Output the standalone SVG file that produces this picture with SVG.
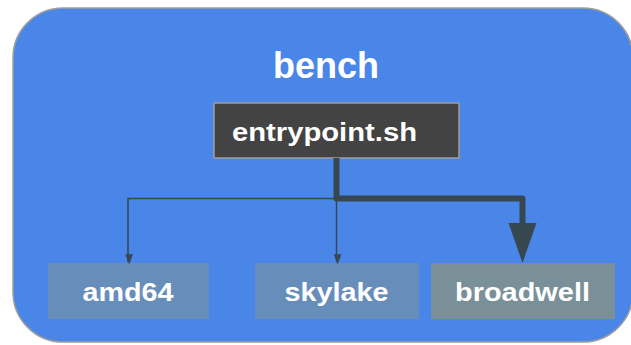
<svg xmlns="http://www.w3.org/2000/svg" width="631" height="345" viewBox="0 0 631 345">
<style>
text{font-family:"Liberation Sans",Arial,sans-serif;font-weight:bold;fill:#ffffff}
.leaf{stroke:none}
.thin{fill:none;stroke:#37474f;stroke-width:1.5}
.thick{fill:none;stroke:#37474f;stroke-width:6;stroke-linejoin:round}
</style>
<defs>
<marker id="sm" markerUnits="userSpaceOnUse" markerWidth="10" markerHeight="13" refX="10" refY="6.5" orient="auto" viewBox="0 0 13 10" >
<path d="M0,0 L13,5 L0,10 z" fill="#37474f"/>
</marker>
</defs>
<g id="bench">
<rect x="13" y="8" width="620" height="334" rx="50" ry="50" fill="#4a86e8" stroke="#9e9e9e" stroke-width="1.5"/>
<text x="326" y="78" font-size="37" text-anchor="middle" textLength="106" lengthAdjust="spacingAndGlyphs">bench</text>
</g>
<g id="entrypoint">
<rect x="214" y="103" width="245" height="55" fill="#434343" stroke="#9e9e9e" stroke-width="1.5"/>
<text x="232" y="140.5" font-size="25.5" textLength="185" lengthAdjust="spacingAndGlyphs">entrypoint.sh</text>
</g>
<g id="amd64">
<rect class="leaf" x="48" y="263" width="161" height="56" fill="#678ebb"/>
<text x="82.5" y="301" font-size="25.5" textLength="91" lengthAdjust="spacingAndGlyphs">amd64</text>
</g>
<g id="skylake">
<rect class="leaf" x="255" y="263" width="164" height="56" fill="#678ebb"/>
<text x="284.5" y="301" font-size="25.5" textLength="104" lengthAdjust="spacingAndGlyphs">skylake</text>
</g>
<g id="broadwell">
<rect class="leaf" x="431" y="263" width="184" height="56" fill="#7a9099"/>
<text x="455" y="301" font-size="25.5" textLength="135" lengthAdjust="spacingAndGlyphs">broadwell</text>
</g>
<g id="connectors">
<path class="thin" d="M336.5,198.5 H128 V262" marker-end="url(#sm)"/>
<path class="thin" d="M336.5,198.5 V262" marker-end="url(#sm)"/>
<path class="thick" d="M336.5,158 V198.5 H522.5 V225"/>
<path d="M508.5,223 L536.5,223 L522.5,263 z" fill="#37474f"/>
</g>
</svg>
